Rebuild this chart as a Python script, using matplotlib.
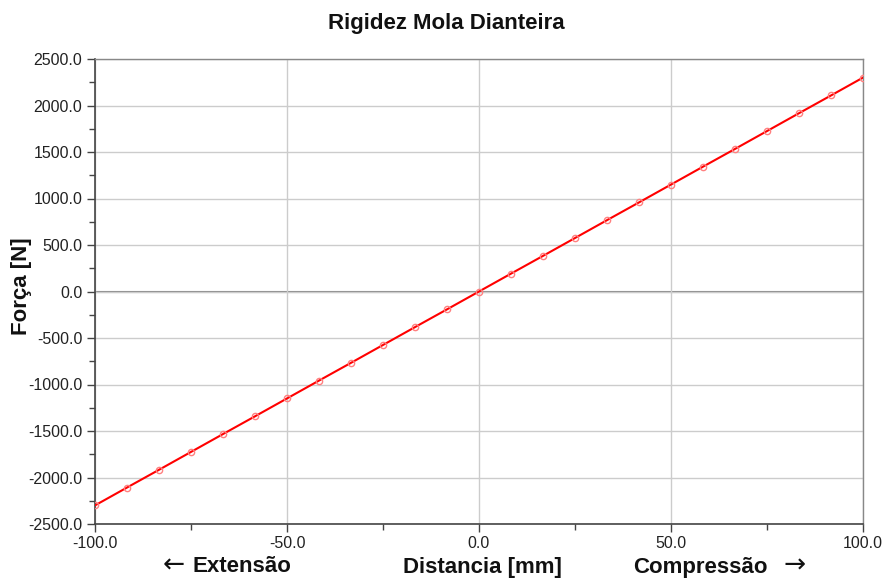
import matplotlib
matplotlib.use("Agg")
import matplotlib.pyplot as plt
from matplotlib.ticker import MultipleLocator, FormatStrFormatter

plt.rcParams['font.family'] = ['Liberation Sans', 'DejaVu Sans']

distancia = [-100.0, -91.67, -83.33, -75.0, -66.67, -58.33, -50.0, -41.67, -33.33,
             -25.0, -16.67, -8.33, 0.0, 8.33, 16.67, 25.0, 33.33, 41.67, 50.0,
             58.33, 66.67, 75.0, 83.33, 91.67, 100.0]
forca = [-2300, -2108, -1917, -1725, -1533, -1342, -1150, -958, -767,
         -575, -383, -192, 0, 192, 383, 575, 767, 958, 1150,
         1342, 1533, 1725, 1917, 2108, 2300]

W, H = 885, 578
fig = plt.figure(figsize=(W/100, H/100), dpi=100)
ax = fig.add_axes([95/W, 1-524/H, (863-95)/W, (524-59)/H])

ax.plot(distancia, forca, color='#ff0000', lw=1.5, zorder=3)
ax.plot(distancia, forca, ls='none', marker='o', ms=4.5, mfc='none',
        mec='#ff8080', mew=1.0, zorder=4)

ax.set_xlim(-100, 100)
ax.set_ylim(-2500, 2500)
ax.xaxis.set_major_locator(MultipleLocator(50))
ax.xaxis.set_minor_locator(MultipleLocator(25))
ax.yaxis.set_major_locator(MultipleLocator(500))
ax.yaxis.set_minor_locator(MultipleLocator(250))
ax.xaxis.set_major_formatter(FormatStrFormatter('%.1f'))
ax.yaxis.set_major_formatter(FormatStrFormatter('%.1f'))

ax.grid(True, which='major', color='#cccccc', lw=1.0, zorder=0)
ax.axhline(0, color='#888888', lw=1.5, zorder=1)

for s in ['left', 'bottom']:
    ax.spines[s].set_color('#444444')
    ax.spines[s].set_linewidth(1.2)
for s in ['top', 'right']:
    ax.spines[s].set_color('#888888')
    ax.spines[s].set_linewidth(1.0)

ax.tick_params(which='both', direction='out', color='#444444', width=1.0,
               labelsize=11.5, labelcolor='#222222')
ax.tick_params(which='major', length=6, pad=3)
ax.tick_params(which='minor', length=4)

lab = dict(fontsize=16, fontweight='bold', color='#111111', va='center')
fig.text(446/W, 1-24/H, 'Rigidez Mola Dianteira', ha='center', **lab)
fig.text(22/W, 1-286/H, 'Força [N]', rotation=90, ha='center', **lab)
fig.text(482/W, 1-567/H, 'Distancia [mm]', ha='center', **lab)
fig.text(192/W, 1-567/H, 'Extensão', ha='left', **lab)
fig.text(768/W, 1-567/H, 'Compressão', ha='right', **lab)
arr = dict(fontsize=19, color='#111111', va='center',
           ha='center', family=['DejaVu Sans'])
fig.text(174/W, 1-566/H, '←', **arr)
fig.text(795/W, 1-566/H, '→', **arr)

fig.savefig('out.png', dpi=100, facecolor='white')
